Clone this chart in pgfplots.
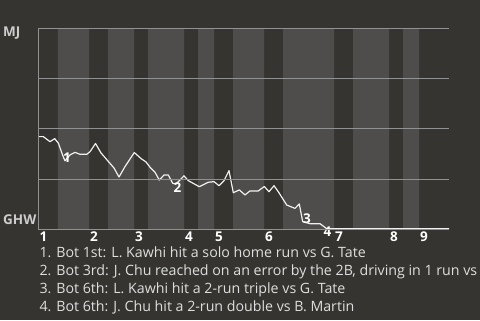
\documentclass[border=0pt]{standalone}
\usepackage{fontspec}
\setmainfont{Open Sans}
\usepackage{pgfplots}
\pgfplotsset{compat=1.18}
\definecolor{bg}{RGB}{54,52,48}
\definecolor{band}{RGB}{78,77,75}
\definecolor{gridc}{RGB}{145,145,145}
\definecolor{txt}{RGB}{222,222,222}
\definecolor{lab}{RGB}{205,205,205}
\begin{document}
\begin{tikzpicture}
\begin{axis}[scale only axis,
  width=410.7pt, height=201pt,
  xmin=38.3, xmax=449, ymin=0, ymax=100,
  clip=false, axis on top,
  axis lines*=left,
  axis line style={gridc, line width=1pt},
  ytick={0,25,50,75,100}, yticklabels={},
  ymajorgrids, grid style={gridc, line width=0.9pt},
  major tick length=0pt,
  xtick={38.3,89,134,184,214,264,334,389,419},
  xticklabels={1,2,3,4,5,6,7,8,9},
  xticklabel style={anchor=north west, inner sep=0pt, xshift=1pt, yshift=-2.6pt,
    font=\fontsize{13.5}{14}\selectfont\bfseries, text=white},
  /pgf/number format/assume math mode=true,
]
% page background (480 x 320 px), in axis units: 1 x-unit = 1px, 1 y-unit = 2.01px
\fill[bg] (axis cs:0,-45.27) rectangle (axis cs:480,114.08);
\addplot[ybar interval, fill=band, draw=none] coordinates {
(38.3,0)(58,100)(89,0)(108,100)(134,0)(148,100)(184,0)(198,100)(214,0)(233,100)
(264,0)(283,100)(334,0)(353,100)(389,0)(403,100)(419,0)(449,0)};
\addplot[color={rgb,255:red,240;green,240;blue,240}, line width=1.2pt, line join=round] coordinates {
(38.3,46.1)(43.3,46.1)(50,43.6)(54.7,45.1)(58.3,42.9)(63.3,36.0)(65,34.1)(70,37.0)
(75,38.3)(80,37.3)(86.7,37.3)(90,38.6)(95.5,42.7)(101,38.0)(110,32.8)(114,30.5)
(119,26.0)(125,31.2)(134.3,38.2)(141,35.2)(146,33.5)(150,30.9)(155,28.4)(159.3,24.5)
(164,27.0)(168.3,27.0)(172.7,22.9)(176,22.5)(184,26.6)(188.3,24.2)(199.3,21.2)
(208.3,23.4)(214,23.7)(219,21.7)(224,24.2)(229,29.2)(233.3,18.2)(239.3,19.6)
(245,17.1)(250,19.1)(258.3,19.1)(264.3,21.3)(269,18.7)(274,21.7)(278.3,18.7)
(286.7,12.1)(295,10.4)(299.3,12.6)(302.7,3.8)(310,2.8)(320,2.8)(326.7,0.3)(449,0.3)};
\node[text=white, font=\fontsize{13.5}{14}\selectfont\bfseries, inner sep=0pt] at (axis cs:67,35.7) {1};
\node[text=white, font=\fontsize{13.5}{14}\selectfont\bfseries, inner sep=0pt] at (axis cs:177.5,20.8) {2};
\node[text=white, font=\fontsize{13.5}{14}\selectfont\bfseries, inner sep=0pt] at (axis cs:307,5.3) {3};
\node[text=white, font=\fontsize{13.5}{14}\selectfont\bfseries, inner sep=0pt] at (axis cs:327.5,-1.2) {4};
\node[anchor=west, inner sep=0pt, text=lab, font=\fontsize{13.5}{14}\selectfont\bfseries] at (axis cs:3,97.5) {MJ};
\node[anchor=west, inner sep=0pt, text=lab, font=\fontsize{13.5}{14}\selectfont\bfseries] at (axis cs:3,4.63) {GHW};
\node[anchor=base west, inner sep=0pt, text=txt, font=\fontsize{14.2}{15}\selectfont] at (axis cs:39.3,-14.13) {1. Bot 1st: L. Kawhi hit a solo home run vs G. Tate};
\node[anchor=base west, inner sep=0pt, text=txt, font=\fontsize{14.2}{15}\selectfont] at (axis cs:39.3,-23.03) {2. Bot 3rd: J. Chu reached on an error by the 2B, driving in 1 run vs};
\node[anchor=base west, inner sep=0pt, text=txt, font=\fontsize{14.2}{15}\selectfont] at (axis cs:39.3,-31.94) {3. Bot 6th: L. Kawhi hit a 2-run triple vs G. Tate};
\node[anchor=base west, inner sep=0pt, text=txt, font=\fontsize{14.2}{15}\selectfont] at (axis cs:39.3,-40.85) {4. Bot 6th: J. Chu hit a 2-run double vs B. Martin};
\end{axis}
\end{tikzpicture}
\end{document}
